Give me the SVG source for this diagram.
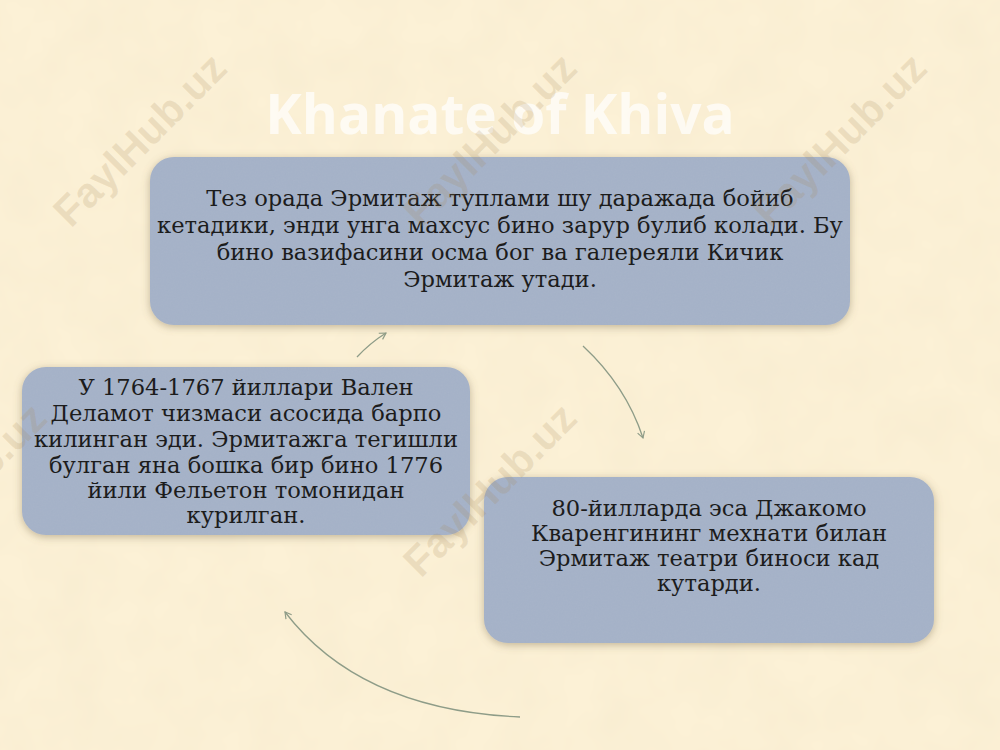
<svg xmlns="http://www.w3.org/2000/svg" width="1000" height="750" viewBox="0 0 1000 750">
<style>
.box{fill:#a5b2c8;}
.t{font-family:"DejaVu Serif","Liberation Serif",serif;font-size:22.6px;fill:#1c1c1c;text-anchor:middle;}
.wm{font-family:"Liberation Sans",Arial,sans-serif;font-weight:bold;font-size:42px;fill:#a88a5a;fill-opacity:0.19;text-anchor:middle;}
.title{font-family:"Open Sans","Liberation Sans",sans-serif;font-weight:bold;font-size:55px;fill:#ffffff;fill-opacity:0.7;text-anchor:middle;}
.conn{fill:none;stroke:#8e9c88;stroke-width:1.3;}
</style>
<defs>
<filter id="shadow" x="-10%" y="-20%" width="120%" height="140%">
<feDropShadow dx="0" dy="2" stdDeviation="4" flood-color="#7a6a48" flood-opacity="0.45"/>
</filter>
<filter id="paper" x="0" y="0" width="100%" height="100%">
<feTurbulence type="fractalNoise" baseFrequency="0.02" numOctaves="3" seed="4"/>
<feColorMatrix type="matrix" values="0 0 0 0 0.85  0 0 0 0 0.75  0 0 0 0 0.55  0 0 0 0.35 -0.08"/>
</filter>
<filter id="grain" x="0" y="0" width="100%" height="100%">
<feTurbulence type="fractalNoise" baseFrequency="0.6" numOctaves="2" seed="7"/>
<feColorMatrix type="matrix" values="0 0 0 0 0.45  0 0 0 0 0.5  0 0 0 0 0.6  0 0 0 0.5 -0.15"/>
<feComposite in2="SourceGraphic" operator="in"/>
</filter>
<marker id="arr" viewBox="0 0 10 10" refX="8" refY="5" markerWidth="9" markerHeight="9" orient="auto" markerUnits="userSpaceOnUse">
<path d="M1,1 L8,5 L1,9" fill="none" stroke="#8e9c88" stroke-width="1.3"/>
</marker>
</defs>
<rect width="1000" height="750" fill="#fcf1d6"/>
<rect width="1000" height="750" filter="url(#paper)"/>
<text class="title" x="500" y="134">Khanate of Khiva</text>
<g id="connectors">
<path class="conn" d="M583,346 Q626,386 643,438" marker-end="url(#arr)"/>
<path class="conn" d="M520,717 Q360,710 285,612" marker-end="url(#arr)"/>
<path class="conn" d="M357,357 Q370,343 386,333" marker-end="url(#arr)"/>
</g>
<g id="node-top">
<rect class="box" x="150" y="157" width="700" height="168" rx="24" filter="url(#shadow)"/>
<rect x="150" y="157" width="700" height="168" rx="24" fill="#a5b2c8" filter="url(#grain)" opacity="0.5"/>
<text class="t" x="500" y="206">Тез орада Эрмитаж туплами шу даражада бойиб</text>
<text class="t" x="500" y="233">кетадики, энди унга махсус бино зарур булиб колади. Бу</text>
<text class="t" x="500" y="260">бино вазифасини осма бог ва галереяли Кичик</text>
<text class="t" x="500" y="287">Эрмитаж утади.</text>
</g>
<g id="node-left">
<rect class="box" x="22" y="367" width="448" height="168" rx="24" filter="url(#shadow)"/>
<rect x="22" y="367" width="448" height="168" rx="24" fill="#a5b2c8" filter="url(#grain)" opacity="0.5"/>
<text class="t" x="246" y="395">У 1764-1767 йиллари Вален</text>
<text class="t" x="246" y="421">Деламот чизмаси асосида барпо</text>
<text class="t" x="246" y="447">килинган эди. Эрмитажга тегишли</text>
<text class="t" x="246" y="473">булган яна бошка бир бино 1776</text>
<text class="t" x="246" y="498">йили Фельетон томонидан</text>
<text class="t" x="246" y="523">курилган.</text>
</g>
<g id="node-right">
<rect class="box" x="484" y="477" width="450" height="166" rx="24" filter="url(#shadow)"/>
<rect x="484" y="477" width="450" height="166" rx="24" fill="#a5b2c8" filter="url(#grain)" opacity="0.5"/>
<text class="t" x="709" y="516">80-йилларда эса Джакомо</text>
<text class="t" x="709" y="541">Кваренгининг мехнати билан</text>
<text class="t" x="709" y="566">Эрмитаж театри биноси кад</text>
<text class="t" x="709" y="591">кутарди.</text>
</g>
<g id="watermarks">
<text class="wm" transform="translate(140,140) rotate(-45)" y="14">FaylHub.uz</text>
<text class="wm" transform="translate(490,140) rotate(-45)" y="14">FaylHub.uz</text>
<text class="wm" transform="translate(840,140) rotate(-45)" y="14">FaylHub.uz</text>
<text class="wm" transform="translate(-40,490) rotate(-45)" y="14">FaylHub.uz</text>
<text class="wm" transform="translate(490,490) rotate(-45)" y="14">FaylHub.uz</text>
</g>
</svg>
